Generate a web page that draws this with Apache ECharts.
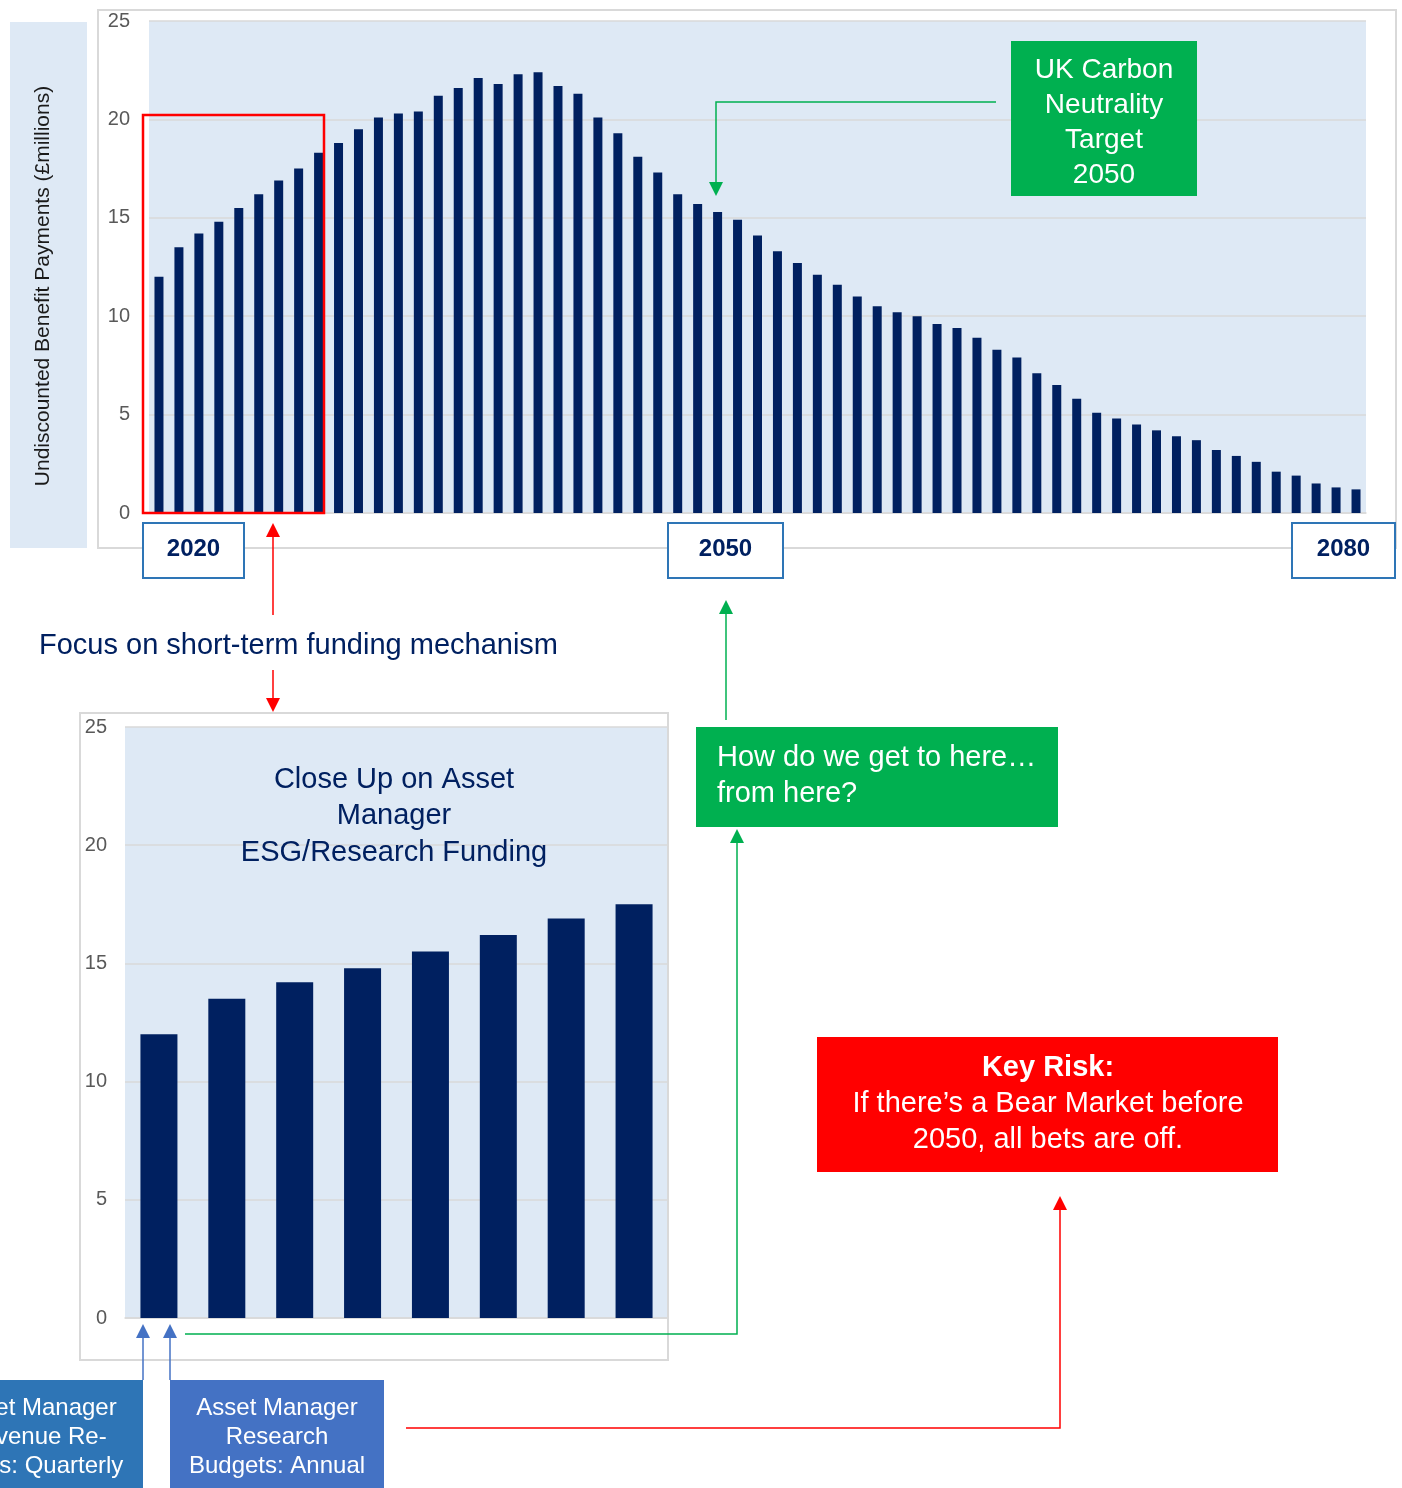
<!DOCTYPE html>
<html>
<head>
<meta charset="utf-8">
<script src="https://cdn.jsdelivr.net/npm/echarts@6/dist/echarts.min.js"></script>
<style>
  html, body { margin: 0; padding: 0; background: #ffffff; }
  #chart { width: 1402px; height: 1488px; }
</style>
</head>
<body>
<div id="chart"></div>
<script>
// Projected undiscounted benefit payments, £ millions per year
const years = [
  '2020','2021','2022','2023','2024','2025','2026','2027','2028','2029',
  '2030','2031','2032','2033','2034','2035','2036','2037','2038','2039',
  '2040','2041','2042','2043','2044','2045','2046','2047','2048','2049',
  '2050','2051','2052','2053','2054','2055','2056','2057','2058','2059',
  '2060','2061','2062','2063','2064','2065','2066','2067','2068','2069',
  '2070','2071','2072','2073','2074','2075','2076','2077','2078','2079',
  '2080'
];
const payments = [
  12.0, 13.5, 14.2, 14.8, 15.5, 16.2, 16.9, 17.5, 18.3, 18.8,
  19.5, 20.1, 20.3, 20.4, 21.2, 21.6, 22.1, 21.8, 22.3, 22.4,
  21.7, 21.3, 20.1, 19.3, 18.1, 17.3, 16.2, 15.7, 15.3, 14.9,
  14.1, 13.3, 12.7, 12.1, 11.6, 11.0, 10.5, 10.2, 10.0, 9.6,
  9.4, 8.9, 8.3, 7.9, 7.1, 6.5, 5.8, 5.1, 4.8, 4.5,
  4.2, 3.9, 3.7, 3.2, 2.9, 2.6, 2.1, 1.9, 1.5, 1.3,
  1.2
];

// Close-up on the first eight years
const closeUpYears = ['2020','2021','2022','2023','2024','2025','2026','2027'];
const closeUpPayments = [12.0, 13.5, 14.2, 14.8, 15.5, 16.2, 16.9, 17.5];

// Value axis: 0 to 25 in steps of 5
const axisMin = 0;
const axisMax = 25;
const axisStep = 5;

const FONT = '"Liberation Sans", Arial, Helvetica, sans-serif';
const NAVY = '#002060';
const PANEL = '#DEE9F5';
const LINE_GRAY = '#D9D9D9';
const GREEN = '#00B050';
const RED = '#FF0000';
const BLUE_A = '#2E75B6';
const BLUE_B = '#4472C4';

// Polyline ending in a filled triangular head at its last point
function arrow(points, color, width) {
  const n = points.length;
  const [x1, y1] = points[n - 2];
  const [x2, y2] = points[n - 1];
  const len = Math.hypot(x2 - x1, y2 - y1);
  const ux = (x2 - x1) / len, uy = (y2 - y1) / len;
  const headLen = 14, headHalf = 7;
  const bx = x2 - ux * headLen, by = y2 - uy * headLen;
  const shaft = points.slice(0, n - 1).concat([[bx, by]]);
  return [
    { type: 'polyline', z: 20, shape: { points: shaft },
      style: { stroke: color, lineWidth: width, fill: null } },
    { type: 'polygon', z: 20, shape: { points: [
        [x2, y2],
        [bx - uy * headHalf, by + ux * headHalf],
        [bx + uy * headHalf, by - ux * headHalf]
      ] }, style: { fill: color } }
  ];
}

function box(x, y, w, h, fill, stroke, lw) {
  return { type: 'rect', z: 15, shape: { x: x, y: y, width: w, height: h },
    style: { fill: fill, stroke: stroke || null, lineWidth: lw || 0 } };
}

function label(x, y, text, opts) {
  opts = opts || {};
  const el = { type: 'text', z: 21, x: x, y: y,
    style: {
      text: text,
      fill: opts.fill || '#ffffff',
      font: (opts.weight || 'normal') + ' ' + (opts.size || 29) + 'px ' + FONT,
      textAlign: opts.align || 'center',
      align: opts.align || 'center',
      textVerticalAlign: 'middle',
      verticalAlign: 'middle',
      lineHeight: opts.lineHeight || 35,
      rich: opts.rich
    } };
  if (opts.rotation) el.rotation = opts.rotation;
  return el;
}

const yearBox = (x, w, text) => [
  box(x, 523, w, 55, '#ffffff', BLUE_A, 2),
  label(x + w / 2, 549, text, { fill: NAVY, size: 24, weight: 'bold' })
];

const graphics = [].concat(
  // frames and axis-title panel
  [{ type: 'rect', z: 0, shape: { x: 98, y: 10, width: 1298, height: 538 },
     style: { fill: null, stroke: LINE_GRAY, lineWidth: 2 } },
   { type: 'rect', z: 0, shape: { x: 10, y: 22, width: 77, height: 526 },
     style: { fill: PANEL } },
   { type: 'rect', z: 0, shape: { x: 80, y: 713, width: 588, height: 647 },
     style: { fill: null, stroke: LINE_GRAY, lineWidth: 2 } }],
  [label(43, 286, 'Undiscounted Benefit Payments (\u00A3millions)',
     { fill: '#1a1a1a', size: 21, rotation: Math.PI / 2 })],

  // highlight of the short-term window
  [{ type: 'rect', z: 18, shape: { x: 143, y: 115, width: 181, height: 398 },
     style: { fill: null, stroke: RED, lineWidth: 2.5 } }],

  yearBox(143, 101, '2020'),
  yearBox(668, 115, '2050'),
  yearBox(1292, 103, '2080'),

  // carbon neutrality call-out
  [box(1011, 41, 186, 155, GREEN),
   label(1104, 123, 'UK Carbon\nNeutrality\nTarget\n2050', { size: 28, lineHeight: 35 })],
  arrow([[996, 102], [716, 102], [716, 196]], GREEN, 1.5),

  // short-term focus
  arrow([[273, 615], [273, 523]], RED, 1.5),
  [label(39, 646, 'Focus on short-term funding mechanism', { fill: NAVY, size: 29, align: 'left' })],
  arrow([[273, 670], [273, 712]], RED, 1.5),

  // close-up title
  [label(394, 816, 'Close Up on Asset\nManager\nESG/Research Funding', { fill: NAVY, size: 29, lineHeight: 36.5 })],

  // question box
  [box(696, 727, 362, 100, GREEN),
   label(717, 776, 'How do we get to here\u2026\nfrom here?', { size: 29, lineHeight: 36, align: 'left' })],
  arrow([[726, 720], [726, 600]], GREEN, 1.5),
  arrow([[185, 1334], [737, 1334], [737, 829]], GREEN, 1.5),

  // key risk
  [box(817, 1037, 461, 135, RED),
   label(1048, 1104, '{b|Key Risk:}\nIf there\u2019s a Bear Market before\n2050, all bets are off.', {
     size: 29, lineHeight: 36,
     rich: { b: { fontWeight: 'bold', fontSize: 29, fontFamily: FONT, fill: '#ffffff', lineHeight: 36 } }
   })],
  arrow([[406, 1428], [1060, 1428], [1060, 1196]], RED, 1.5),

  // budget cycle boxes
  [box(-80, 1380, 223, 108, BLUE_A),
   label(36, 1437, 'Asset Manager\nRevenue Re-\nceipts: Quarterly', { size: 24, lineHeight: 29 }),
   box(170, 1380, 214, 108, BLUE_B),
   label(277, 1437, 'Asset Manager\nResearch\nBudgets: Annual', { size: 24, lineHeight: 29 })],
  arrow([[143, 1380], [143, 1324]], BLUE_B, 1.5),
  arrow([[170, 1380], [170, 1324]], BLUE_B, 1.5)
);

function valueAxis(gridIndex, margin) {
  return {
    type: 'value', gridIndex: gridIndex,
    min: axisMin, max: axisMax, interval: axisStep,
    axisLine: { show: false }, axisTick: { show: false },
    axisLabel: { color: '#595959', fontSize: 20, fontFamily: FONT, margin: margin },
    splitLine: { lineStyle: { color: LINE_GRAY, width: 1.5 } }
  };
}

function categoryAxis(gridIndex, data) {
  return {
    type: 'category', gridIndex: gridIndex, data: data,
    axisLine: { show: true, lineStyle: { color: LINE_GRAY, width: 1.5 } },
    axisTick: { show: false }, axisLabel: { show: false },
    splitLine: { show: false }
  };
}

const chart = echarts.init(document.getElementById('chart'), null, { renderer: 'canvas' });
chart.setOption({
  animation: false,
  backgroundColor: '#ffffff',
  grid: [
    { left: 149, top: 21, width: 1217, height: 492, show: true,
      backgroundColor: PANEL, borderWidth: 0 },
    { left: 125, top: 727, width: 543, height: 591, show: true,
      backgroundColor: PANEL, borderWidth: 0 }
  ],
  xAxis: [categoryAxis(0, years), categoryAxis(1, closeUpYears)],
  yAxis: [valueAxis(0, 19), valueAxis(1, 18)],
  series: [
    { type: 'bar', xAxisIndex: 0, yAxisIndex: 0, data: payments,
      barWidth: 9, itemStyle: { color: NAVY } },
    { type: 'bar', xAxisIndex: 1, yAxisIndex: 1, data: closeUpPayments,
      barWidth: 37, itemStyle: { color: NAVY } }
  ],
  graphic: graphics
});
</script>
</body>
</html>
